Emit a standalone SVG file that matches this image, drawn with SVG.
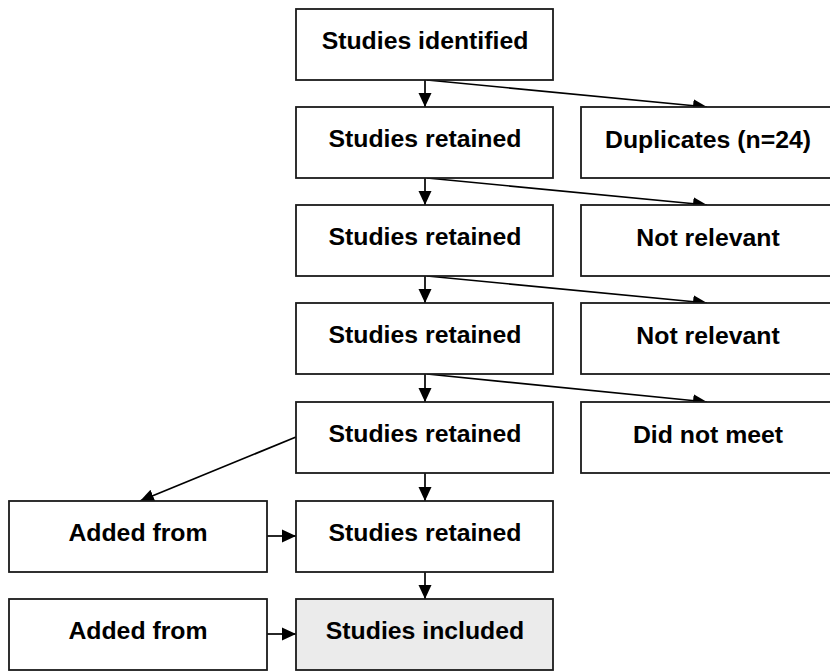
<svg xmlns="http://www.w3.org/2000/svg" width="830" height="671" viewBox="0 0 830 671">
<defs>
<style>
.box{fill:#ffffff;stroke:#1a1a1a;stroke-width:1.8}
.grey{fill:#ebebeb}
.lbl{font-family:"Liberation Sans",Arial,Helvetica,sans-serif;font-weight:bold;font-size:24.8px;fill:#000;text-anchor:middle}
.edge{stroke:#000;stroke-width:1.7;fill:none;marker-end:url(#ah)}
</style>
<marker id="ah" markerUnits="userSpaceOnUse" markerWidth="16" markerHeight="16" viewBox="0 0 16 16" refX="14" refY="8" orient="auto">
<path d="M0,1.5 L14,8 L0,14.5 Z" fill="#000"/>
</marker>
</defs>
<rect width="830" height="671" fill="#ffffff"/>
<g id="connectors">
<line class="edge" x1="425" y1="80" x2="425" y2="107"/>
<line class="edge" x1="427" y1="80" x2="707" y2="107"/>
<line class="edge" x1="425" y1="178" x2="425" y2="205"/>
<line class="edge" x1="427" y1="178" x2="707" y2="205"/>
<line class="edge" x1="425" y1="276" x2="425" y2="303"/>
<line class="edge" x1="427" y1="276" x2="707" y2="303"/>
<line class="edge" x1="425" y1="374" x2="425" y2="402"/>
<line class="edge" x1="427" y1="374" x2="707" y2="402"/>
<line class="edge" x1="296" y1="437" x2="140" y2="501"/>
<line class="edge" x1="425" y1="473" x2="425" y2="501"/>
<line class="edge" x1="425" y1="572" x2="425" y2="599"/>
<line class="edge" x1="267" y1="536" x2="296" y2="536"/>
<line class="edge" x1="267" y1="634" x2="296" y2="634"/>
</g>
<g id="n1"><rect class="box" x="296" y="9" width="257" height="71"/><text class="lbl" x="425" y="49">Studies identified</text></g>
<g id="n2"><rect class="box" x="296" y="107" width="257" height="71"/><text class="lbl" x="425" y="147">Studies retained</text></g>
<g id="n3"><rect class="box" x="296" y="205" width="257" height="71"/><text class="lbl" x="425" y="245">Studies retained</text></g>
<g id="n4"><rect class="box" x="296" y="303" width="257" height="71"/><text class="lbl" x="425" y="343">Studies retained</text></g>
<g id="n5"><rect class="box" x="296" y="402" width="257" height="71"/><text class="lbl" x="425" y="442">Studies retained</text></g>
<g id="n6"><rect class="box" x="296" y="501" width="257" height="71"/><text class="lbl" x="425" y="541">Studies retained</text></g>
<g id="n7"><rect class="box grey" x="296" y="599" width="257" height="71"/><text class="lbl" x="425" y="639">Studies included</text></g>
<g id="r1"><rect class="box" x="581" y="107" width="252" height="71"/><text class="lbl" x="708" y="148">Duplicates (n=24)</text></g>
<g id="r2"><rect class="box" x="581" y="205" width="252" height="71"/><text class="lbl" x="708" y="246">Not relevant</text></g>
<g id="r3"><rect class="box" x="581" y="303" width="252" height="71"/><text class="lbl" x="708" y="344">Not relevant</text></g>
<g id="r4"><rect class="box" x="581" y="402" width="252" height="71"/><text class="lbl" x="708" y="443">Did not meet</text></g>
<g id="l1"><rect class="box" x="9" y="501" width="258" height="71"/><text class="lbl" x="138" y="541">Added from</text></g>
<g id="l2"><rect class="box" x="9" y="599" width="258" height="71"/><text class="lbl" x="138" y="639">Added from</text></g>
</svg>
